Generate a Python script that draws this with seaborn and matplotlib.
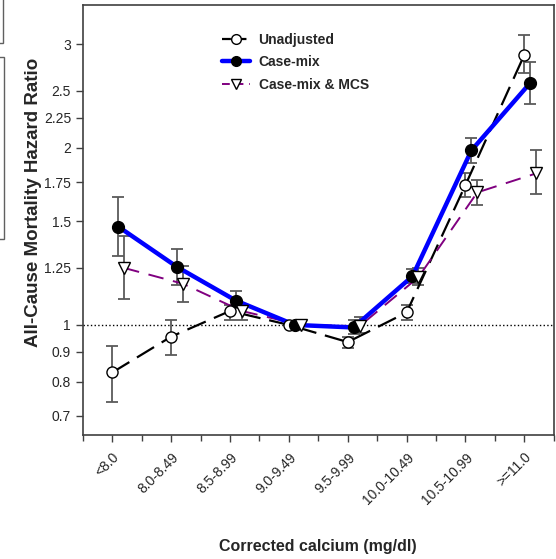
import numpy as np
import pandas as pd
import matplotlib
matplotlib.use("Agg")
import matplotlib.pyplot as plt
from matplotlib.patches import Rectangle
from matplotlib.lines import Line2D
import seaborn as sns

# calcium categories and hazard ratios
categories = ["<8.0", "8.0-8.49", "8.5-8.99", "9.0-9.49", "9.5-9.99",
              "10.0-10.49", "10.5-10.99", ">=11.0"]

unadj = [0.83, 0.955, 1.056, 1.0, 0.935, 1.05, 1.73, 2.88]
unadj_lo = [0.74, 0.89, 1.02, 1.0, 0.915, 1.02, 1.65, 2.68]
unadj_hi = [0.92, 1.02, 1.08, 1.0, 0.955, 1.08, 1.81, 3.11]

casemix = [1.47, 1.255, 1.10, 1.0, 0.99, 1.21, 1.98, 2.58]
casemix_lo = [1.31, 1.17, 1.07, 1.0, 0.965, 1.18, 1.885, 2.38]
casemix_hi = [1.65, 1.345, 1.14, 1.0, 1.02, 1.245, 2.08, 2.80]

mcs = [1.25, 1.175, 1.056, 1.0, 0.995, 1.205, 1.68, 1.81]
mcs_lo = [1.105, 1.095, 1.02, 1.0, 0.97, 1.17, 1.60, 1.67]
mcs_hi = [1.415, 1.26, 1.07, 1.0, 1.03, 1.25, 1.765, 1.985]

yticks = [0.7, 0.8, 0.9, 1, 1.25, 1.5, 1.75, 2, 2.25, 2.5, 3]
ytick_labels = ["0.7", "0.8", "0.9", "1", "1.25", "1.5", "1.75", "2", "2.25", "2.5", "3"]

sns.set_style("ticks")
plt.rcParams["font.family"] = ["Liberation Sans", "DejaVu Sans"]

fig = plt.figure(figsize=(5.56, 5.59), dpi=100)
ax = fig.add_axes([0.149, 0.222, 0.847, 0.769])

x = np.arange(len(categories))
series = [
    ("Unadjusted", unadj, unadj_lo, unadj_hi, 0.0,
     dict(color="black", lw=1.6, dashes=(9, 4)), dict(marker="o", mfc="white", mec="black", ms=8)),
    ("Case-mix", casemix, casemix_lo, casemix_hi, 0.1,
     dict(color="#0000ff", lw=3.2), dict(marker="o", mfc="black", mec="black", ms=8.5)),
    ("Case-mix & MCS", mcs, mcs_lo, mcs_hi, 0.2,
     dict(color="#800080", lw=1.4, dashes=(8, 5)), dict(marker="v", mfc="white", mec="black", ms=8.5)),
]

ax.axhline(1, color="black", ls=":", lw=1, zorder=1)

for name, val, lo, hi, off, lstyle, mstyle in series:
    xs = x + off
    val = np.array(val); lo = np.array(lo); hi = np.array(hi)
    ax.errorbar(xs, val, yerr=[val - lo, hi - val], fmt="none", ecolor="#5a5a5a",
                elinewidth=1.3, capsize=4.5, capthick=1.3, zorder=2)
    df = pd.DataFrame({"x": xs, "y": val})
    kw = dict(lstyle)
    dashes = kw.pop("dashes", None)
    sns.lineplot(data=df, x="x", y="y", ax=ax, color=kw["color"], lw=kw["lw"],
                 zorder=4 if name == "Case-mix" else 3)
    ln = ax.lines[-1]
    if dashes:
        ln.set_dashes(dashes)
    ax.plot(xs, val, ls="none", zorder=5, **mstyle)

# legend handles
handles = []
for name, val, lo, hi, off, lstyle, mstyle in series:
    kw = dict(lstyle)
    dashes = kw.pop("dashes", None)
    h = Line2D([], [], color=kw["color"], lw=kw["lw"], marker=mstyle["marker"],
               mfc=mstyle["mfc"], mec=mstyle["mec"], ms=7)
    if dashes:
        h.set_dashes((4, 3))
    handles.append(h)
ax.legend(handles, [s[0] for s in series], loc="upper left", bbox_to_anchor=(0.27, 0.965),
          frameon=False, handlelength=2.0, handletextpad=0.6, labelspacing=0.62,
          prop=dict(weight="bold", size=10))

ax.set_yscale("log")
ax.set_ylim(0.65, 3.5)
ax.set_yticks(yticks)
ax.set_yticklabels(ytick_labels)
ax.yaxis.set_minor_locator(matplotlib.ticker.NullLocator())
ax.set_xlim(-0.5, 7.5)
ax.set_xticks(x)
ax.set_xticks(np.arange(-0.5, 8, 1), minor=True)
ax.set_xticklabels(categories, rotation=45, ha="right", rotation_mode="anchor")
ax.tick_params(axis="both", which="major", labelsize=10, length=5, width=1, color="#404040")
ax.tick_params(axis="x", which="minor", length=4, width=1, color="#404040")
ax.tick_params(axis="x", pad=6)
for s in ax.spines.values():
    s.set_color("#404040")
    s.set_linewidth(1.2)

ax.set_xlabel("Corrected calcium (mg/dl)", fontsize=11.5, fontweight="bold")
ax.set_ylabel("All-Cause Mortality Hazard Ratio", fontsize=13.5, fontweight="bold")
ax.xaxis.set_label_coords(0.499, -0.242)
ax.yaxis.set_label_coords(-0.087, 0.542)

# cropped frames at the left edge of the original page
fig.patches.append(Rectangle((-0.05, 1 - 43 / 559), 0.055, 0.2, transform=fig.transFigure,
                             fill=False, edgecolor="#606060", lw=1))
fig.patches.append(Rectangle((-0.05, 1 - 239 / 559), 0.057, 182 / 559, transform=fig.transFigure,
                             fill=False, edgecolor="#606060", lw=1))

fig.savefig("out.png", dpi=100)
